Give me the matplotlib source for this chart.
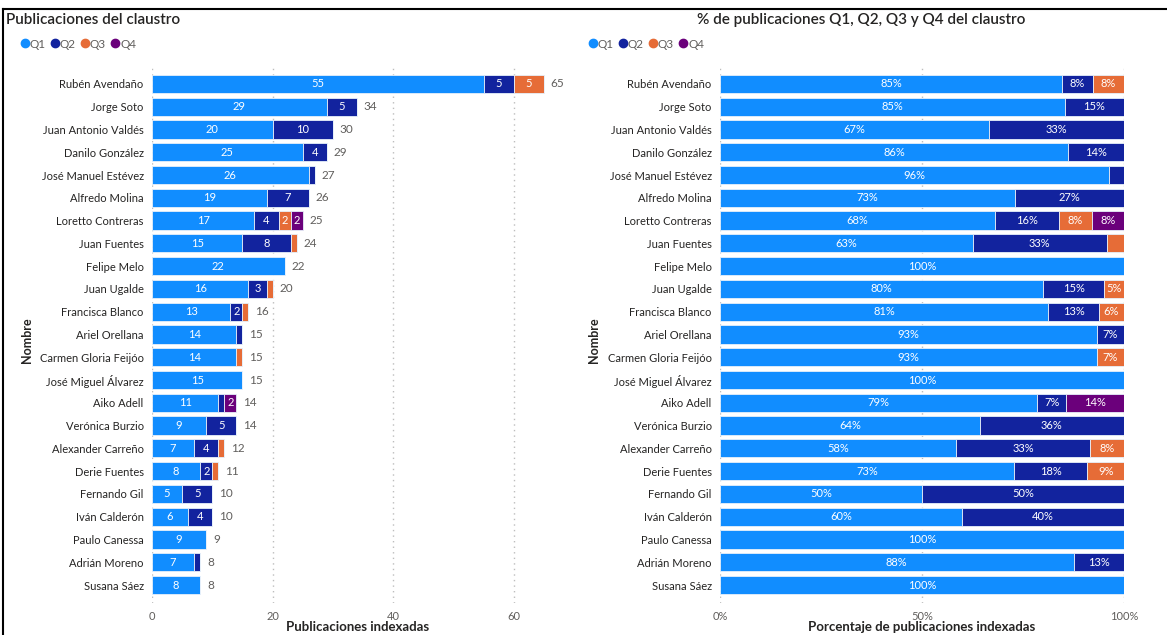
import numpy as np
import matplotlib
matplotlib.use("Agg")
import matplotlib.pyplot as plt
from matplotlib.lines import Line2D

plt.rcParams['font.family'] = ['Lato', 'DejaVu Sans']

nombres = ["Rubén Avendaño", "Jorge Soto", "Juan Antonio Valdés", "Danilo González",
           "José Manuel Estévez", "Alfredo Molina", "Loretto Contreras", "Juan Fuentes",
           "Felipe Melo", "Juan Ugalde", "Francisca Blanco", "Ariel Orellana",
           "Carmen Gloria Feijóo", "José Miguel Álvarez", "Aiko Adell", "Verónica Burzio",
           "Alexander Carreño", "Derie Fuentes", "Fernando Gil", "Iván Calderón",
           "Paulo Canessa", "Adrián Moreno", "Susana Sáez"]
q1 = [55, 29, 20, 25, 26, 19, 17, 15, 22, 16, 13, 14, 14, 15, 11, 9, 7, 8, 5, 6, 9, 7, 8]
q2 = [5, 5, 10, 4, 1, 7, 4, 8, 0, 3, 2, 1, 0, 0, 1, 5, 4, 2, 5, 4, 0, 1, 0]
q3 = [5, 0, 0, 0, 0, 0, 2, 1, 0, 1, 1, 0, 1, 0, 0, 0, 1, 1, 0, 0, 0, 0, 0]
q4 = [0, 0, 0, 0, 0, 0, 2, 0, 0, 0, 0, 0, 0, 0, 2, 0, 0, 0, 0, 0, 0, 0, 0]
cuartiles = ["Q1", "Q2", "Q3", "Q4"]
colores = ["#118DFF", "#12239E", "#E66C37", "#6B007B"]

series = np.array([q1, q2, q3, q4], dtype=float)
totales = series.sum(axis=0)
porcentajes = series / totales * 100

W, H = 1167, 635
fig = plt.figure(figsize=(W / 100, H / 100), dpi=100)
y = np.arange(len(nombres))
texto = "#252423"
gris = "#605E5C"


def px(x0, y0, x1, y1):
    return [x0 / W, 1 - y1 / H, (x1 - x0) / W, (y1 - y0) / H]


def estilo(ax, xlim, ticks, ticklabels):
    ax.set_xlim(*xlim)
    ax.set_ylim(22.79, -0.70)
    for s in ax.spines.values():
        s.set_visible(False)
    ax.set_xticks(ticks)
    ax.set_xticklabels(ticklabels, color=gris, fontsize=8)
    ax.set_yticks(y)
    ax.set_yticklabels(nombres, color=texto, fontsize=8)
    ax.tick_params(length=0, pad=6)
    ax.grid(axis='x', linestyle=(0, (1, 3)), color="#BDBDBD", linewidth=1)
    ax.set_axisbelow(True)


def apilar(ax, datos, etiquetas, minimo):
    left = np.zeros(len(nombres))
    for k in range(4):
        ax.barh(y, datos[k], left=left, height=0.8, color=colores[k],
                edgecolor="#E6F0FA", linewidth=0.6, zorder=2)
        for i in range(len(nombres)):
            if datos[k][i] >= minimo:
                ax.text(left[i] + datos[k][i] / 2, y[i], etiquetas[k][i],
                        ha='center', va='center', color='white', fontsize=8, zorder=3)
        left += datos[k]


# Número de publicaciones
ax1 = fig.add_axes(px(152, 68, 574, 603))
etq1 = [[str(int(v)) for v in fila] for fila in series]
apilar(ax1, series, etq1, 2)
for i, t in enumerate(totales):
    ax1.annotate(str(int(t)), (t, y[i]), xytext=(5, 0), textcoords='offset points',
                 ha='left', va='center', color=gris, fontsize=8.5)
estilo(ax1, (0, 70), [0, 20, 40, 60], ["0", "20", "40", "60"])

# Porcentajes por cuartil
ax2 = fig.add_axes(px(720, 68, 1124, 603))
etq2 = [[f"{int(np.floor(v + 0.5))}%" for v in fila] for fila in porcentajes]
apilar(ax2, porcentajes, etq2, 4.5)
estilo(ax2, (0, 100), [0, 50, 100], ["0%", "50%", "100%"])

fig.text(358 / W, 1 - 627 / H, "Publicaciones indexadas", ha='center', va='center',
         fontsize=9.5, color=texto, fontweight='bold')
fig.text(922 / W, 1 - 627 / H, "Porcentaje de publicaciones indexadas", ha='center',
         va='center', fontsize=9.5, color=texto, fontweight='bold')

fig.text(27 / W, 1 - 340 / H, "Nombre", rotation=90, ha='center', va='center',
         fontsize=9, color=texto, fontweight='bold')
fig.text(594 / W, 1 - 340 / H, "Nombre", rotation=90, ha='center', va='center',
         fontsize=9, color=texto, fontweight='bold')

fig.text(6 / W, 1 - 20 / H, "Publicaciones del claustro", ha='left', va='center',
         fontsize=11, color=texto, fontweight='semibold')
fig.text(861 / W, 1 - 20 / H, "% de publicaciones Q1, Q2, Q3 y Q4 del claustro",
         ha='center', va='center', fontsize=11, color=texto, fontweight='semibold')

handles = [Line2D([], [], marker='o', linestyle='', color=c, markersize=6) for c in colores]
for x0 in (14, 582):
    fig.legend(handles, cuartiles, loc='center left', bbox_to_anchor=(x0 / W, 1 - 44 / H),
               ncol=4, frameon=False, handletextpad=-0.1, columnspacing=0.3,
               handlelength=1.0, fontsize=8.5, labelcolor=gris, borderaxespad=0)

# marco
fig.add_artist(Line2D([3 / W, 1], [1 - 9 / H, 1 - 9 / H], color='black', linewidth=1.5))
fig.add_artist(Line2D([3 / W, 3 / W], [0, 1 - 9 / H], color='black', linewidth=1.5))

fig.savefig("out.png", dpi=100)
